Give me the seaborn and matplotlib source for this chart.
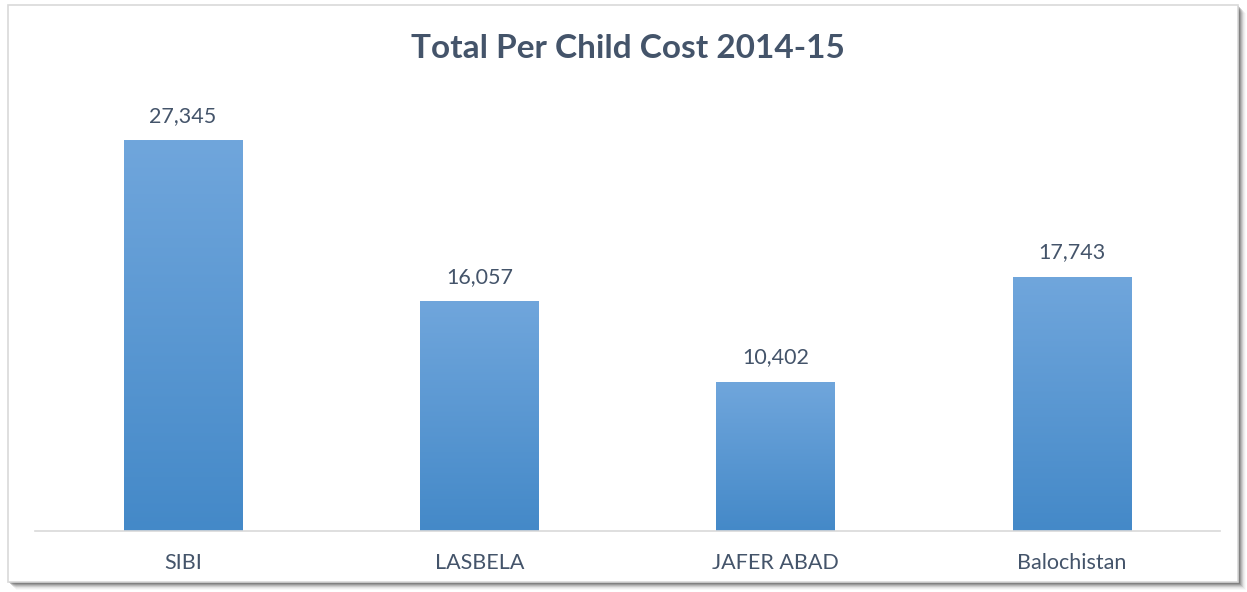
import numpy as np
import pandas as pd
import matplotlib
matplotlib.use("Agg")
import matplotlib.pyplot as plt
from matplotlib.patches import Rectangle
import seaborn as sns

# Per-child cost by district
districts = ["SIBI", "LASBELA", "JAFER ABAD", "Balochistan"]
cost = [27345, 16057, 10402, 17743]
title_text = "Total Per Child Cost 2014-15"

df = pd.DataFrame({"district": districts, "cost": cost})

sns.set_theme(style="white")
plt.rcParams["font.family"] = ["Lato", "DejaVu Sans"]

TEXT = "#44546A"
TOP_C = np.array([0x70, 0xA6, 0xDC]) / 255
BOT_C = np.array([0x44, 0x89, 0xC8]) / 255

W, H = 1247, 592
fig = plt.figure(figsize=(W / 100, H / 100), dpi=100)
fig.patch.set_facecolor("white")

# Chart frame with a soft drop shadow on the right and bottom
fx0, fy0, fx1, fy1 = 8, 5, 1238, 582
for i, a in enumerate([0.40, 0.32, 0.25, 0.19, 0.13, 0.08, 0.05, 0.03]):
    off = i + 1
    fig.patches.append(Rectangle(((fx0 + off) / W, (H - fy1 - off) / H),
                                 (fx1 - fx0) / W, (fy1 - fy0) / H,
                                 transform=fig.transFigure, facecolor="#4D4D4D",
                                 edgecolor="none", alpha=a, zorder=-3))
fig.patches.append(Rectangle((fx0 / W, (H - fy1) / H), (fx1 - fx0) / W, (fy1 - fy0) / H,
                             transform=fig.transFigure, facecolor="white",
                             edgecolor="#D9D9D9", linewidth=1.2, zorder=-2))

ax = fig.add_axes([35 / W, 61 / H, (1220 - 35) / W, (531 - 103) / H])
ax.set_facecolor("none")
sns.barplot(data=df, x="district", y="cost", width=0.4, ax=ax,
            color="#5B9BD5", saturation=1, edgecolor="none", errorbar=None)

# Vertical gradient fill for each bar
grad = np.linspace(0, 1, 256)[:, None]
img = TOP_C[None, None, :] * (1 - grad[..., None]) + BOT_C[None, None, :] * grad[..., None]
for p in ax.patches:
    x0, y0 = p.get_x(), p.get_y()
    w, h = p.get_width(), p.get_height()
    ax.imshow(img, extent=(x0, x0 + w, y0, y0 + h), origin="upper",
              aspect="auto", zorder=2, interpolation="bilinear")
    p.set_facecolor("none")
ax.set_xlim(-0.5, len(districts) - 0.5)
ax.set_ylim(0, 30000)

for p, v in zip(ax.patches, cost):
    ax.annotate(f"{v:,}", (p.get_x() + p.get_width() / 2, v),
                xytext=(0, 11), textcoords="offset points",
                ha="center", va="bottom", fontsize=15.5, color=TEXT)

sns.despine(ax=ax, left=True, top=True, right=True, bottom=False)
ax.spines["bottom"].set_color("#D9D9D9")
ax.spines["bottom"].set_linewidth(1.2)
ax.set_yticks([])
ax.set_xlabel("")
ax.set_ylabel("")
ax.tick_params(axis="x", length=0, pad=16, labelsize=15.5, labelcolor=TEXT)

fig.text(628 / W, 1 - 48 / H, title_text, ha="center", va="center",
         fontsize=24, fontweight="bold", color=TEXT)

fig.savefig("out.png", dpi=100)
